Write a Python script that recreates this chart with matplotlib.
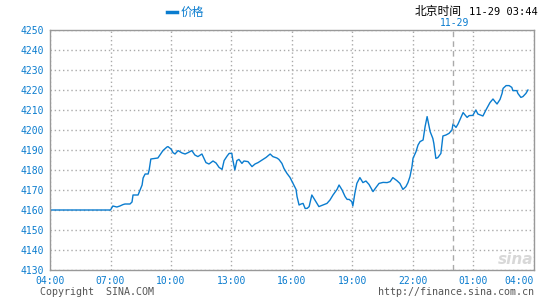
import matplotlib
matplotlib.use('Agg')
import matplotlib.pyplot as plt

# minutes after 04:00 (11-28) and price
minutes = [0, 180, 187, 199, 208, 217, 223, 238, 244, 247, 262, 268, 274, 277, 283, 292, 295, 300,
           321, 327, 336, 348, 351, 360, 366, 372, 381, 393, 402, 411, 422, 431, 440, 452, 464, 473,
           485, 494, 503, 512, 518, 527, 533, 541, 544, 550, 556, 562, 571, 577, 589, 601, 610, 619,
           634, 643, 655, 663, 675, 681, 690, 696, 705, 714, 723, 732, 735, 741, 747, 753, 759, 765,
           771, 779, 782, 791, 800, 812, 824, 833, 842, 854, 860, 869, 878, 884, 890, 898, 901, 907,
           913, 922, 931, 940, 949, 961, 970, 979, 991, 1003, 1012, 1020, 1032, 1041, 1050, 1059,
           1065, 1071, 1077, 1080, 1089, 1095, 1101, 1110, 1116, 1122, 1125, 1131, 1139, 1142, 1148,
           1154, 1163, 1169, 1178, 1187, 1196, 1199, 1208, 1214, 1220, 1229, 1241, 1247, 1258, 1267,
           1273, 1288, 1297, 1309, 1318, 1324, 1330, 1339, 1345, 1348, 1357, 1366, 1374, 1377, 1389,
           1392, 1401, 1407, 1416, 1422]
prices = [4160, 4160, 4162, 4161.5, 4162, 4162.7, 4163, 4163, 4164, 4167.5, 4167.5, 4170, 4172.5,
          4176, 4178, 4178, 4180, 4185.5, 4186, 4187.5, 4189.7, 4191.5, 4191.7, 4190.5, 4188.7, 4188,
          4189.7, 4188.5, 4188, 4188.7, 4189.7, 4187.5, 4186.7, 4188, 4183.7, 4183, 4184.5, 4183.5,
          4181.3, 4180.3, 4184.7, 4187, 4188.3, 4188.3, 4185, 4180, 4184.7, 4185.3, 4183.3, 4184.5,
          4184.2, 4181.7, 4183, 4183.7, 4185.3, 4186.3, 4188, 4186.7, 4186, 4185.3, 4183.3, 4180.8,
          4178.3, 4176.3, 4173.3, 4170.3, 4166.7, 4162.5, 4163, 4163.3, 4160.8, 4160.8, 4161.7,
          4167.5, 4166.7, 4164.2, 4161.7, 4162.5, 4163.3, 4165, 4167.5, 4170.3, 4172.5, 4170, 4166.7,
          4165.3, 4165.3, 4164.2, 4162, 4168.3, 4173.3, 4176.2, 4173.7, 4174.5, 4172.8, 4169.2,
          4171.3, 4173.3, 4173.8, 4173.7, 4174.2, 4176.2, 4174.7, 4173.3, 4170.3, 4171.7, 4173.7,
          4176.7, 4181.7, 4185.8, 4189.2, 4192.5, 4194.2, 4195, 4201.7, 4206.7, 4204.2, 4199.2,
          4195.8, 4193.3, 4185.8, 4186.2, 4188.3, 4197, 4197.5, 4198.3, 4200, 4203, 4201.3, 4203,
          4205.3, 4208.7, 4206.3, 4207.2, 4207.3, 4210, 4208, 4207, 4210, 4213.7, 4215.5, 4214.2,
          4213, 4215.3, 4218.3, 4220.8, 4222.2, 4222.2, 4221.3, 4219.7, 4219.7, 4218.3, 4216.3,
          4216.7, 4218.3, 4220]

x_ticks = [0, 3, 6, 9, 12, 15, 18, 21, 24]
x_labels = ['04:00', '07:00', '10:00', '13:00', '16:00', '19:00', '22:00', '01:00', '04:00']
y_ticks = list(range(4130, 4251, 10))
date_change = 20  # midnight, hours after 04:00

blue = '#0a7ccf'
grey = '#999999'
mono = 'DejaVu Sans Mono'
cjk = ['Noto Sans CJK SC', 'DejaVu Sans']

fig = plt.figure(figsize=(5.4, 3.0), dpi=100)
ax = fig.add_axes([50 / 540, 30 / 300, 484 / 540, 240 / 300])

hours = [m / 60 for m in minutes]
ax.plot(hours, prices, color=blue, lw=1.0)
ax.axvline(date_change, color='#aaaaaa', lw=1, ls=(0, (4, 3)))

ax.set_xlim(0, 24)
ax.set_ylim(4130, 4250)
ax.set_xticks(x_ticks)
ax.set_xticklabels(x_labels)
ax.set_yticks(y_ticks)
ax.get_xticklabels()[-1].set_horizontalalignment('right')
ax.get_xticklabels()[-1].set_x(24)

ax.grid(True, color='#aaaaaa', ls=(0, (1, 2)), lw=1)
ax.tick_params(length=0, colors=blue, labelsize=7, pad=4)
for lab in ax.get_xticklabels() + ax.get_yticklabels():
    lab.set_family(mono)
for s in ax.spines.values():
    s.set_color(grey)
    s.set_linewidth(1)

# last x label sits inside the figure edge
ax.get_xticklabels()[-1].set_horizontalalignment('right')

# legend
fig.add_artist(plt.Line2D([167 / 540, 177 / 540], [1 - 12 / 300] * 2, color=blue, lw=2.5))
fig.text(181 / 540, 1 - 12 / 300, '价格', color=blue, fontsize=8.5, family=cjk, va='center')

fig.text(415 / 540, 1 - 12 / 300, '北京时间', color='black', fontsize=8.5, family=cjk, va='center')
fig.text(538 / 540, 1 - 12 / 300, '11-29 03:44', color='black', fontsize=7.5, family=mono,
         va='center', ha='right')
fig.text(455 / 540, 1 - 23 / 300, '11-29', color=blue, fontsize=7, family=mono,
         va='center', ha='center')

fig.text(40 / 540, 1 - 292 / 300, 'Copyright  SINA.COM', color='#555555', fontsize=7.2,
         family=mono, va='center')
fig.text(534 / 540, 1 - 292 / 300, 'http://finance.sina.com.cn', color='#555555', fontsize=7.2,
         family=mono, va='center', ha='right')

# faint watermark
fig.text(516 / 540, 1 - 259 / 300, 'sina', color='#d8d8d8', fontsize=11, fontweight='bold',
         style='italic', va='center', ha='center')

fig.savefig('out.png', dpi=100)
